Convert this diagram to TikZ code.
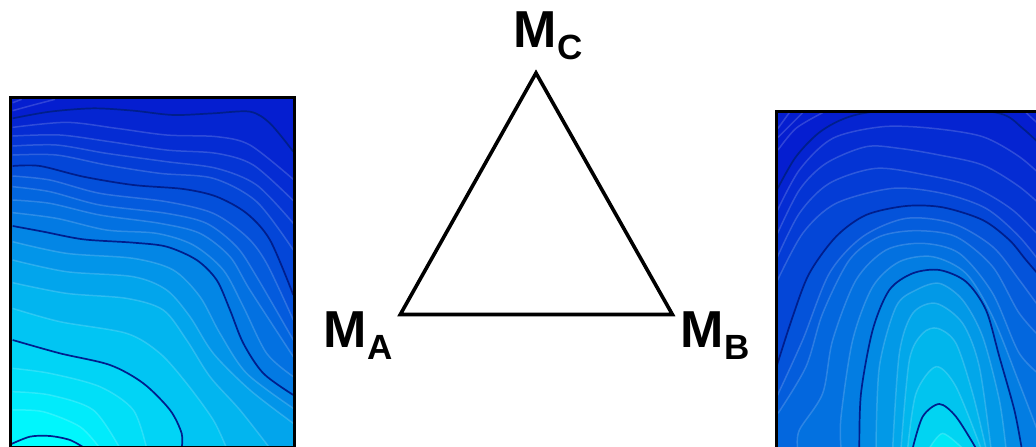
\documentclass[tikz,border=0pt]{standalone}
\usepackage{fontspec}
\setmainfont{Liberation Sans}
\usepackage{tikz}
\definecolor{deepblue}{RGB}{5,30,208}
\definecolor{brightcyan}{RGB}{0,255,255}
\definecolor{rightcyan}{RGB}{0,232,246}
\definecolor{darkcontour}{RGB}{0,30,140}
\tikzset{
    darkline/.style={draw=darkcontour, line width=1.7pt},
    lightline/.style={draw=white, draw opacity=0.17, line width=1.5pt},
    panel/.style={draw=black, line width=3.6pt},
    triangle/.style={draw=black, line width=3.6pt, miter limit=10},
    vertexlabel/.style={inner sep=0pt, anchor=base west, font=\bfseries\fontsize{52}{52}\selectfont}
}
% one filled band and its contour line
\newcommand{\contourband}[3]{
    \fill[#1] plot[smooth] coordinates {#3} -- (900,1100) -- (0,1100) -- cycle;
    \draw[#2] plot[smooth] coordinates {#3};
}
\newcommand{\subscript}[1]{\raisebox{-12pt}{\fontsize{35}{35}\selectfont #1}}

\begin{document}
\begin{tikzpicture}[x=1pt, y=-1pt]
    \useasboundingbox (0,0) rectangle (1036,447);
    \clip (0,0) rectangle (1036,447);

    % Left panel
    \begin{scope}
        \clip (10,97) rectangle (295,449);
        \begin{scope}[shift={(0,90)}, scale=1/3]
            \fill[deepblue] (0,0) rectangle (900,1100);
            \draw[lightline] plot[smooth] coordinates {(38,62) (100,45) (165,28)};
            \draw[lightline] plot[smooth] coordinates {(38,38) (65,28)};
            \contourband{brightcyan!3!deepblue}{darkline}{(38,85) (150,65) (280,55) (400,62) (520,75) (640,70) (750,65) (810,100) (880,185)}
            \contourband{brightcyan!6!deepblue}{lightline}{(38,112) (200,97) (350,115) (500,135) (650,140) (750,165) (880,268)}
            \contourband{brightcyan!10!deepblue}{lightline}{(38,138) (180,135) (330,155) (500,180) (650,190) (760,225) (880,332)}
            \contourband{brightcyan!14!deepblue}{lightline}{(38,168) (170,165) (320,190) (500,215) (650,235) (770,285) (880,400)}
            \contourband{brightcyan!18!deepblue}{lightline}{(38,195) (170,195) (320,225) (480,250) (640,265) (770,335) (880,480)}
            \contourband{brightcyan!22!deepblue}{darkline}{(38,228) (120,228) (250,260) (400,285) (550,297) (650,320) (740,370) (810,450) (880,615)}
            \contourband{brightcyan!27!deepblue}{lightline}{(38,258) (150,270) (300,310) (500,335) (640,370) (740,440) (800,520) (880,690)}
            \contourband{brightcyan!32!deepblue}{lightline}{(38,290) (150,305) (300,345) (500,370) (620,400) (710,470) (770,560) (880,750)}
            \contourband{brightcyan!37!deepblue}{lightline}{(38,330) (150,340) (300,375) (480,400) (600,430) (690,500) (750,600) (880,800)}
            \contourband{brightcyan!41!deepblue}{lightline}{(38,368) (170,385) (320,420) (470,430) (580,465) (670,540) (730,650) (800,790) (880,860)}
            \contourband{brightcyan!46!deepblue}{darkline}{(38,408) (130,425) (250,448) (400,458) (500,470) (590,510) (650,570) (690,660) (730,760) (790,850) (880,915)}
            \contourband{brightcyan!53!deepblue}{lightline}{(38,455) (200,490) (400,505) (520,540) (600,620) (660,730) (740,850) (880,955)}
            \contourband{brightcyan!60!deepblue}{lightline}{(38,510) (200,545) (400,560) (500,600) (570,680) (640,790) (750,900) (880,1000)}
            \contourband{brightcyan!67!deepblue}{lightline}{(38,578) (200,610) (380,625) (490,660) (560,750) (630,860) (720,960) (810,1075)}
            \contourband{brightcyan!74!deepblue}{lightline}{(38,655) (180,695) (380,730) (480,790) (560,880) (640,990) (680,1075)}
            \contourband{brightcyan!81!deepblue}{darkline}{(38,750) (180,790) (330,825) (430,880) (510,960) (545,1030) (545,1075)}
            \contourband{brightcyan!86!deepblue}{lightline}{(38,835) (150,850) (300,890) (400,960) (440,1075)}
            \contourband{brightcyan!91!deepblue}{lightline}{(38,905) (150,915) (280,960) (360,1075)}
            \contourband{brightcyan!96!deepblue}{lightline}{(38,960) (130,965) (240,1010) (300,1075)}
            \contourband{brightcyan}{darkline}{(30,1064) (90,1040) (150,1038) (210,1050) (255,1075)}
        \end{scope}
    \end{scope}
    \draw[panel] (10.5,97.5) rectangle (294.5,447.5);

    % Right panel
    \begin{scope}
        \clip (776,111) rectangle (1036,447);
        \begin{scope}[shift={(766,100)}, scale=1/3]
            \fill[deepblue] (0,0) rectangle (900,1100);
            \draw[lightline] plot[smooth] coordinates {(36,85) (70,38)};
            \draw[lightline] plot[smooth] coordinates {(36,112) (110,38)};
            \draw[lightline] plot[smooth] coordinates {(36,150) (90,85) (170,38)};
            \draw[lightline] plot[smooth] coordinates {(780,38) (815,70)};
            \contourband{rightcyan!3!deepblue}{darkline}{(30,275) (90,170) (170,90) (280,42) (500,20) (700,40) (770,85) (840,150)}
            \contourband{rightcyan!7!deepblue}{lightline}{(30,340) (100,210) (200,115) (350,80) (500,85) (650,110) (760,170) (840,240)}
            \contourband{rightcyan!11!deepblue}{lightline}{(30,410) (100,270) (180,190) (300,140) (400,145) (520,165) (650,195) (760,260) (840,330)}
            \contourband{rightcyan!15!deepblue}{lightline}{(30,480) (100,340) (190,250) (330,205) (480,225) (620,260) (740,330) (840,430)}
            \contourband{rightcyan!20!deepblue}{lightline}{(30,550) (110,400) (210,310) (380,265) (530,280) (660,325) (760,410) (840,510)}
            \contourband{rightcyan!26!deepblue}{darkline}{(30,805) (80,650) (130,520) (210,410) (300,345) (420,318) (530,322) (650,360) (730,420) (780,480) (840,550)}
            \contourband{rightcyan!31!deepblue}{lightline}{(30,895) (110,720) (190,520) (290,410) (420,355) (560,370) (680,440) (760,540) (840,650)}
            \contourband{rightcyan!36!deepblue}{lightline}{(36,940) (120,800) (170,640) (250,480) (340,410) (450,392) (570,410) (680,500) (760,640) (840,730)}
            \contourband{rightcyan!41!deepblue}{lightline}{(95,1045) (100,990) (170,880) (200,720) (270,540) (360,450) (470,430) (580,460) (680,580) (760,760) (840,840)}
            \contourband{rightcyan!47!deepblue}{lightline}{(225,1045) (225,950) (260,720) (320,560) (400,485) (500,470) (600,520) (680,650) (760,850) (835,1045)}
            \contourband{rightcyan!54!deepblue}{darkline}{(280,1045) (285,880) (320,690) (370,570) (440,520) (520,510) (600,545) (660,630) (700,770) (745,930) (767,1045)}
            \contourband{rightcyan!61!deepblue}{lightline}{(330,1045) (340,800) (390,620) (450,570) (520,550) (590,600) (650,710) (700,900) (720,1045)}
            \contourband{rightcyan!68!deepblue}{lightline}{(380,1045) (400,760) (440,640) (510,610) (590,670) (640,800) (675,1045)}
            \contourband{rightcyan!75!deepblue}{lightline}{(405,1045) (430,780) (470,700) (515,685) (570,730) (620,880) (660,1045)}
            \contourband{rightcyan!82!deepblue}{lightline}{(425,1045) (450,880) (510,800) (570,860) (645,1045)}
            \contourband{rightcyan!90!deepblue}{darkline}{(440,1045) (470,950) (520,912) (570,950) (630,1045)}
            \contourband{rightcyan}{lightline}{(490,1045) (530,1000) (590,1045)}
        \end{scope}
    \end{scope}
    \draw[panel] (776.5,111.5) rectangle (1045,455);

    % Triangle
    \coordinate (cornerA) at (400.3,314.5);
    \coordinate (cornerB) at (672.4,314.5);
    \coordinate (cornerC) at (536,73);
    \draw[triangle] (cornerA) -- (cornerB) -- (cornerC) -- cycle;

    % Labels
    \node[vertexlabel] (labelA) at (323.5,347.5) {M\subscript{A}};
    \node[vertexlabel] (labelB) at (680.5,347.5) {M\subscript{B}};
    \node[vertexlabel] (labelC) at (513.5,47) {M\subscript{C}};
\end{tikzpicture}
\end{document}
